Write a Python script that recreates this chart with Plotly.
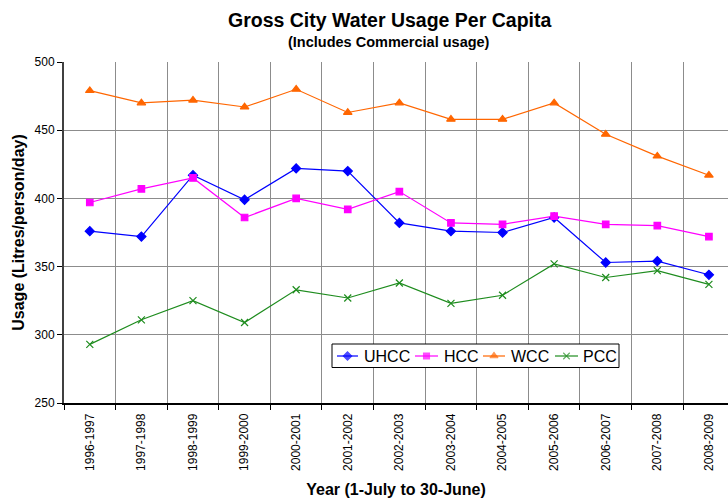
import plotly.graph_objects as go

years = ["1996-1997", "1997-1998", "1998-1999", "1999-2000", "2000-2001",
         "2001-2002", "2002-2003", "2003-2004", "2004-2005", "2005-2006",
         "2006-2007", "2007-2008", "2008-2009"]

uhcc = [376, 372, 417, 399, 422, 420, 382, 376, 375, 386, 353, 354, 344]
hcc = [397, 407, 415, 386, 400, 392, 405, 382, 381, 387, 381, 380, 372]
wcc = [479, 470, 472, 467, 480, 463, 470, 458, 458, 470, 447, 431, 417]
pcc = [293, 311, 325, 309, 333, 327, 338, 323, 329, 352, 342, 347, 337]

series_names = ["UHCC", "HCC", "WCC", "PCC"]
series_values = [uhcc, hcc, wcc, pcc]
series_colors = ["#0000FF", "#FF00FF", "#FF6600", "#1E8C1E"]
series_symbols = ["diamond", "square", "triangle-up", "x-thin-open"]
series_sizes = [7, 6.5, 7.5, 7]

FONT = "Arial, Liberation Sans, sans-serif"

# Plot area geometry (pixels) and axis ranges
PLOT_L, PLOT_R, PLOT_T, PLOT_B = 64, 728, 62, 403
X_RANGE = [-0.5, 12.37]
Y_RANGE = [250, 500]


def px_to_x(px):
    return X_RANGE[0] + (px - PLOT_L) * (X_RANGE[1] - X_RANGE[0]) / (PLOT_R - PLOT_L)


def py_to_y(py):
    return Y_RANGE[1] - (py - PLOT_T) * (Y_RANGE[1] - Y_RANGE[0]) / (PLOT_B - PLOT_T)


fig = go.Figure()
for name, vals, color, symbol, size in zip(series_names, series_values,
                                           series_colors, series_symbols,
                                           series_sizes):
    fig.add_trace(go.Scatter(
        x=years, y=vals, name=name, mode="lines+markers",
        line=dict(color=color, width=1.2),
        marker=dict(symbol=symbol, size=size, color=color,
                    line=dict(color=color, width=1.2)),
        showlegend=False,
    ))

# Compact boxed legend: box and key lines sit between the grid and the data
key_line = [(337, 358), (415, 438), (483, 505), (555, 578)]
key_text_x = [362, 441.5, 509, 581]
key_y = 356
fig.add_shape(type="rect", xref="x", yref="y",
              x0=px_to_x(332), x1=px_to_x(619), y0=py_to_y(344), y1=py_to_y(367.5),
              line=dict(color="black", width=1), fillcolor="white", layer="between")
for (x0, x1), tx, name, color in zip(key_line, key_text_x, series_names, series_colors):
    fig.add_shape(type="line", xref="x", yref="y",
                  x0=px_to_x(x0), x1=px_to_x(x1), y0=py_to_y(key_y), y1=py_to_y(key_y),
                  line=dict(color=color, width=1.2), layer="between")
    fig.add_annotation(xref="x2", yref="y2", x=tx, y=key_y, text=name,
                       showarrow=False, xanchor="left", yanchor="middle",
                       font=dict(family=FONT, size=16, color="black"))
fig.add_trace(go.Scatter(
    x=[(a + b) / 2 for a, b in key_line], y=[key_y] * 4,
    xaxis="x2", yaxis="y2", mode="markers", showlegend=False, hoverinfo="skip",
    marker=dict(symbol=series_symbols, size=[s - 0.5 for s in series_sizes],
                color=series_colors, line=dict(color=series_colors, width=1.1)),
))

# Title and subtitle
fig.add_annotation(xref="paper", yref="paper", x=0.490, y=1.1246,
                   text="<b>Gross City Water Usage Per Capita</b>", showarrow=False,
                   xanchor="center", yanchor="middle",
                   font=dict(family=FONT, size=19.5, color="black"))
fig.add_annotation(xref="paper", yref="paper", x=0.490, y=1.060,
                   text="<b>(Includes Commercial usage)</b>", showarrow=False,
                   xanchor="center", yanchor="middle",
                   font=dict(family=FONT, size=14.5, color="black"))

fig.update_layout(
    width=728, height=502,
    margin=dict(l=PLOT_L, r=728 - PLOT_R, t=PLOT_T, b=502 - PLOT_B, autoexpand=False),
    paper_bgcolor="white", plot_bgcolor="white",
    font=dict(family=FONT, color="black", size=12),
    showlegend=False,
    xaxis2=dict(overlaying="x", range=[PLOT_L, PLOT_R], visible=False, fixedrange=True),
    yaxis2=dict(overlaying="y", range=[PLOT_B, PLOT_T], visible=False, fixedrange=True),
)

fig.layout.xaxis.update(
    type="category", range=X_RANGE,
    tickson="boundaries", ticks="outside", ticklen=5, tickcolor="black",
    showgrid=True, gridcolor="#8C8C8C", gridwidth=1,
    showline=True, linecolor="black", linewidth=1.5,
    tickangle=-90, tickfont=dict(size=12), ticklabelstandoff=4,
    title=dict(text="<b>Year (1-July to 30-June)</b>", font=dict(size=16), standoff=14),
    automargin=False,
)
fig.layout.yaxis.update(
    range=Y_RANGE, dtick=50, tick0=250,
    ticks="outside", ticklen=5, tickcolor="black",
    showgrid=True, gridcolor="#8C8C8C", gridwidth=1,
    showline=True, linecolor="#404040", linewidth=2,
    tickfont=dict(size=12),
    title=dict(text="<b>Usage (Litres/person/day)</b>", font=dict(size=16), standoff=6),
    zeroline=False, automargin=False,
)

fig.write_html("out.html")
